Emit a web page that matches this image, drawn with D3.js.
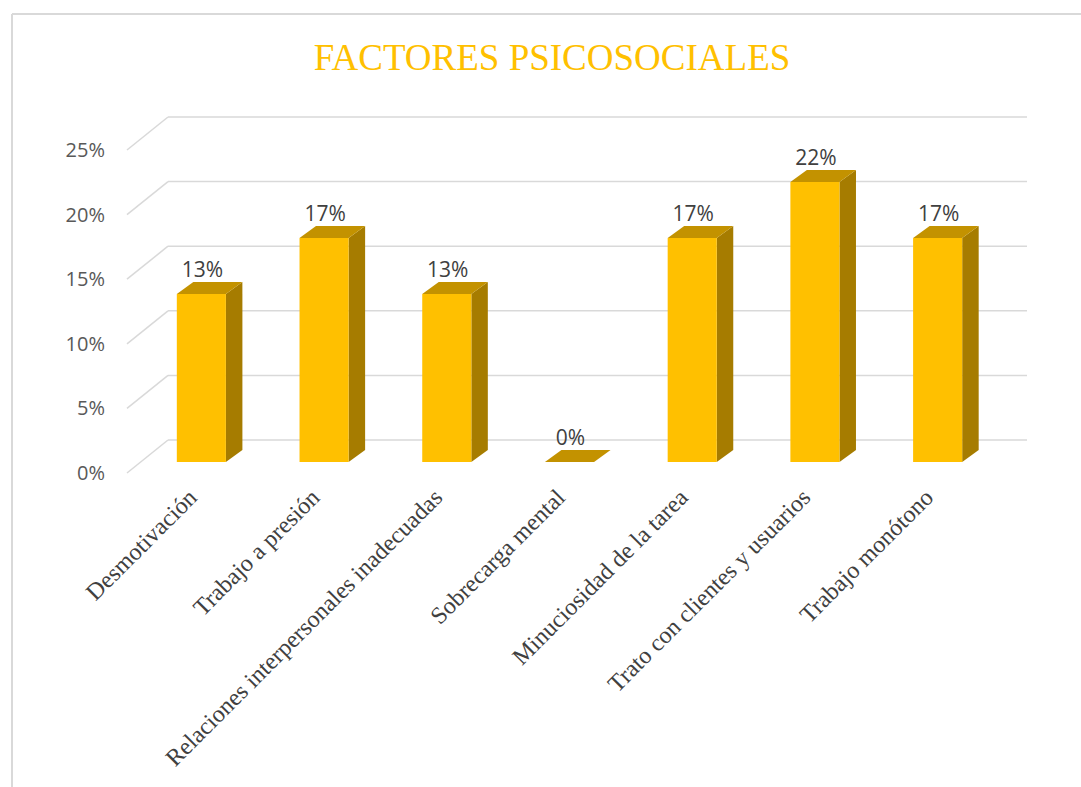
<!doctype html>
<html>
<head>
<meta charset="utf-8">
<script src="https://d3js.org/d3.v7.min.js"></script>
<style>
  body { margin: 0; background: #fff; }
</style>
</head>
<body>
<script>
// data: counts out of 23 answers, shown as percentages
var categories = ["Desmotivación", "Trabajo a presión", "Relaciones interpersonales inadecuadas",
  "Sobrecarga mental", "Minuciosidad de la tarea", "Trato con clientes y usuarios", "Trabajo monótono"];
var values = [3/23, 4/23, 3/23, 0, 4/23, 5/23, 4/23];
var yTicks = [0, 0.05, 0.10, 0.15, 0.20, 0.25];
var chartTitle = "FACTORES PSICOSOCIALES";

var W = 1081, H = 787;
var svg = d3.select("body").append("svg")
  .attr("width", W).attr("height", H);

// chart frame (top and left edges visible)
svg.append("line").attr("x1", 12).attr("y1", 14).attr("x2", W).attr("y2", 14)
  .attr("stroke", "#d9d9d9").attr("stroke-width", 2);
svg.append("line").attr("x1", 12).attr("y1", 14).attr("x2", 12).attr("y2", H)
  .attr("stroke", "#d9d9d9").attr("stroke-width", 2);

svg.append("text")
  .attr("x", 552).attr("y", 70)
  .attr("text-anchor", "middle")
  .attr("font-family", "'Liberation Serif', 'Times New Roman', serif")
  .attr("font-size", 37)
  .attr("fill", "#FFC000")
  .text(chartTitle);

// 3D offsets
var floorDx = 41, floorDy = -33;   // full depth of the floor
var barDx = 16.5, barDy = -12;     // depth of a bar

// back wall scale and front-face scale
var yBack = d3.scaleLinear().domain([0, 0.25]).range([440, 117]);
var yFace = d3.scaleLinear().domain([0, 0.25]).range([462, 140]);
var x = d3.scaleBand().domain(categories).range([140, 999])
  .paddingInner(0.6).paddingOuter(0.3);

// gridlines: back wall + side diagonal
var grid = svg.append("g");
yTicks.forEach(function (t) {
  var yb = yBack(t);
  grid.append("line")
    .attr("x1", 168).attr("x2", 1027).attr("y1", yb).attr("y2", yb)
    .attr("stroke", "#d9d9d9").attr("stroke-width", 1.5);
  grid.append("line")
    .attr("x1", 168 - floorDx).attr("y1", yb - floorDy)
    .attr("x2", 168).attr("y2", yb)
    .attr("stroke", "#d9d9d9").attr("stroke-width", 1.5);
  svg.append("text")
    .attr("x", 105).attr("y", yb - floorDy)
    .attr("dy", "0.35em")
    .attr("text-anchor", "end")
    .attr("font-family", "'Open Sans', sans-serif")
    .attr("font-size", 20)
    .attr("fill", "#595959")
    .text(d3.format(".0%")(t));
});

// bars
var bars = svg.append("g").selectAll("g")
  .data(categories.map(function (c, i) { return { cat: c, v: values[i] }; }))
  .join("g");

bars.each(function (d) {
  var g = d3.select(this);
  var x0 = x(d.cat), x1 = x0 + x.bandwidth();
  var y0 = yFace(0), y1 = yFace(d.v);
  // side face
  g.append("path")
    .attr("d", "M" + x1 + "," + y1 + "L" + (x1 + barDx) + "," + (y1 + barDy) +
      "L" + (x1 + barDx) + "," + (y0 + barDy) + "L" + x1 + "," + y0 + "Z")
    .attr("fill", "#A67C00");
  // front face
  if (d.v > 0) {
    g.append("rect")
      .attr("x", x0).attr("y", y1)
      .attr("width", x.bandwidth()).attr("height", y0 - y1)
      .attr("fill", "#FFC000");
  }
  // top face
  g.append("path")
    .attr("d", "M" + x0 + "," + y1 + "L" + x1 + "," + y1 +
      "L" + (x1 + barDx) + "," + (y1 + barDy) + "L" + (x0 + barDx) + "," + (y1 + barDy) + "Z")
    .attr("fill", "#C39200");
  // value label
  g.append("text")
    .attr("x", x0 + x.bandwidth() / 2 + 1)
    .attr("y", y1 + barDy - 5)
    .attr("text-anchor", "middle")
    .attr("font-family", "'Open Sans', sans-serif")
    .attr("font-size", 21)
    .attr("fill", "#404040")
    .text(d3.format(".0%")(d.v));
});

// category labels, rotated
svg.append("g").selectAll("text")
  .data(categories)
  .join("text")
  .attr("transform", function (d) {
    return "translate(" + (x(d) + x.bandwidth() / 2 - 3) + ",499) rotate(-45)";
  })
  .attr("text-anchor", "end")
  .attr("font-family", "'Liberation Serif', 'Times New Roman', serif")
  .attr("font-size", 24)
  .attr("fill", "#404040")
  .text(function (d) { return d; });
</script>
</body>
</html>
